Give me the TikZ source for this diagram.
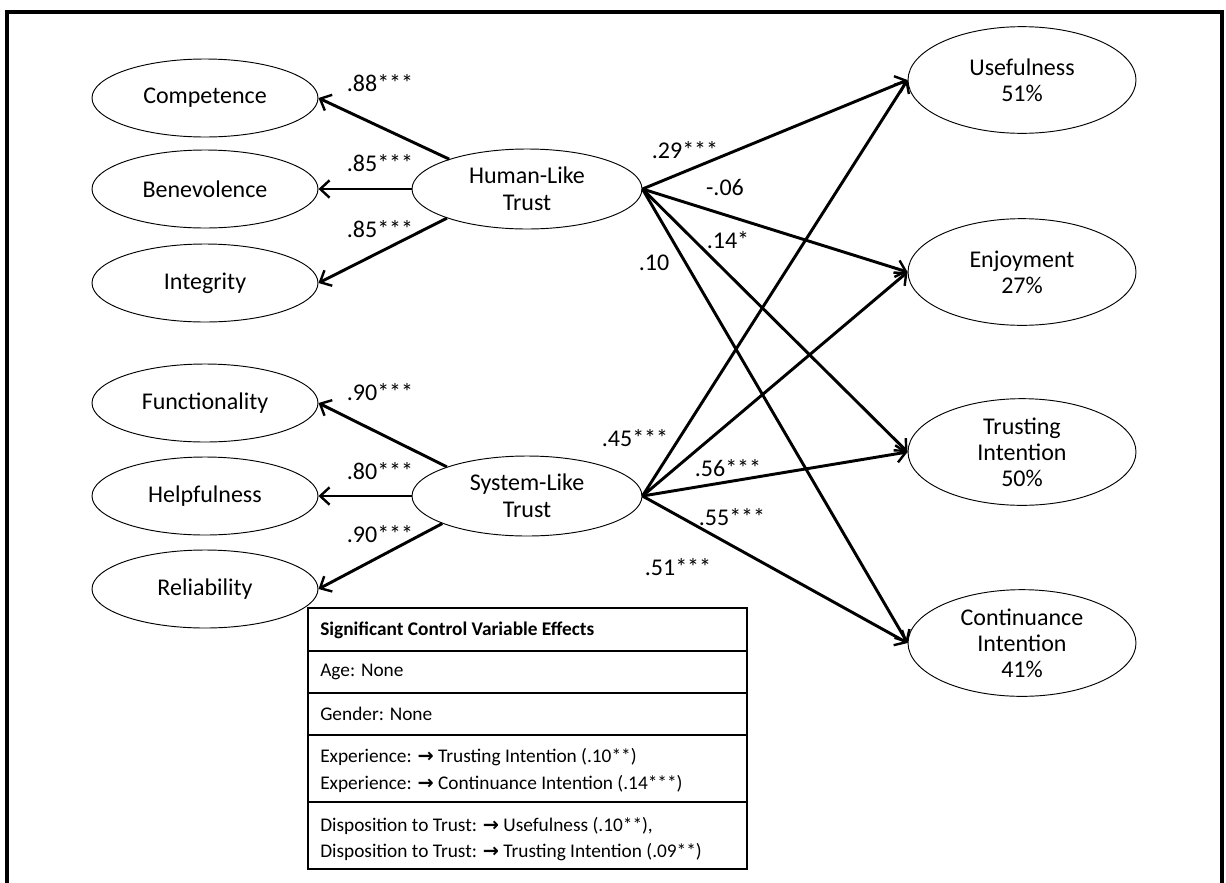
\documentclass[tikz,border=0pt]{standalone}
\usepackage{fontspec}
\setmainfont{Carlito}
\newfontfamily\symfont{DejaVu Sans}
\usetikzlibrary{shapes.geometric,arrows.meta}
\begin{document}
\begin{tikzpicture}[x=0.75pt,y=-0.75pt,
  latent/.style={ellipse,draw,line width=0.7pt,inner sep=0pt,minimum width=169.5pt,minimum height=58.5pt,font=\fontsize{18}{20}\selectfont,align=center},
  core/.style={latent,minimum width=172.5pt,minimum height=60pt},
  outcome/.style={latent,minimum width=171pt,minimum height=80pt,font=\fontsize{18}{19.5}\selectfont},
  path/.style={line width=2.2pt,-{Straight Barb[length=7pt,width=13pt,line width=1.8pt]}},
  coef/.style={font=\fontsize{18}{20}\selectfont,inner sep=0pt},
  tabtxt/.style={font=\fontsize{14.5}{17}\selectfont,anchor=west,inner sep=0pt},
  rule/.style={line width=1.4pt}
]
\useasboundingbox (0,0) rectangle (1226,882);
\clip (0,0) rectangle (1226,882);
% frame
\draw[line width=2.4pt] (7,900) -- (7,12) -- (1222,12) -- (1222,900);

% latent variables
\node[latent] (comp) at (205,98) {Competence};
\node[latent] (benev) at (205,189) {Benevolence};
\node[latent] (integ) at (205,283) {Integrity};
\node[latent] (func) at (205,403) {Functionality};
\node[latent] (help) at (205,496) {Helpfulness};
\node[latent] (reli) at (205,589) {Reliability};
\node[core] (hl) at (527,189) {Human-Like\\Trust};
\node[core] (sys) at (527,496) {System-Like\\Trust};
\node[outcome] (use) at (1022,80) {Usefulness\\51\%};
\node[outcome] (enj) at (1022,272) {Enjoyment\\27\%};
\node[outcome] (trust) at (1022,452) {Trusting\\Intention\\50\%};
\node[outcome] (cont) at (1022,643) {Continuance\\Intention\\41\%};

% loadings
\draw[path] (hl.159) -- (comp.east);
\draw[path] (hl.west) -- (benev.east);
\draw[path] (hl.200) -- (integ.east);
\draw[path] (sys.160) -- (func.east);
\draw[path] (sys.west) -- (help.east);
\draw[path] (sys.198) -- (reli.east);

% structural paths
\draw[path] (hl.east) -- (use.west);
\draw[path] (hl.east) -- (enj.west);
\draw[path] (hl.east) -- (trust.west);
\draw[path] (hl.east) -- (cont.west);
\draw[path] (sys.east) -- (use.west);
\draw[path] (sys.east) -- (enj.west);
\draw[path] (sys.east) -- (trust.west);
\draw[path] (sys.east) -- (cont.west);

% coefficients
\node[coef] (c1) at (380,83) {.88***};
\node[coef] (c2) at (380,163) {.85***};
\node[coef] (c3) at (380,229) {.85***};
\node[coef] (c4) at (380,392) {.90***};
\node[coef] (c5) at (380,471) {.80***};
\node[coef] (c6) at (380,534) {.90***};
\node[coef] (c7) at (685,150) {.29***};
\node[coef] (c8) at (725,187) {-.06};
\node[coef] (c9) at (728,240) {.14*};
\node[coef] (c10) at (654,263) {.10};
\node[coef] (c11) at (635,438) {.45***};
\node[coef] (c12) at (728,468) {.56***};
\node[coef] (c13) at (732,517) {.55***};
\node[coef] (c14) at (678,567) {.51***};

% control variable table
\draw[rule] (308,608) rectangle (747,869);
\draw[rule] (308,651) -- (747,651);
\draw[rule] (308,693) -- (747,693);
\draw[rule] (308,735) -- (747,735);
\draw[rule] (308,802) -- (747,802);
\node[tabtxt] (t1) at (320,630) {\bfseries Significant Control Variable Effects};
\node[tabtxt] (t2) at (320,672) {Age: None};
\node[tabtxt] (t3) at (320,714) {Gender: None};
\node[tabtxt] (t4) at (320,757) {Experience: {\symfont\bfseries →} Trusting Intention (.10**)};
\node[tabtxt] (t5) at (320,784) {Experience: {\symfont\bfseries →} Continuance Intention (.14***)};
\node[tabtxt] (t6) at (320,826) {Disposition to Trust: {\symfont\bfseries →} Usefulness (.10**),};
\node[tabtxt] (t7) at (320,852) {Disposition to Trust: {\symfont\bfseries →} Trusting Intention (.09**)};
\end{tikzpicture}
\end{document}
